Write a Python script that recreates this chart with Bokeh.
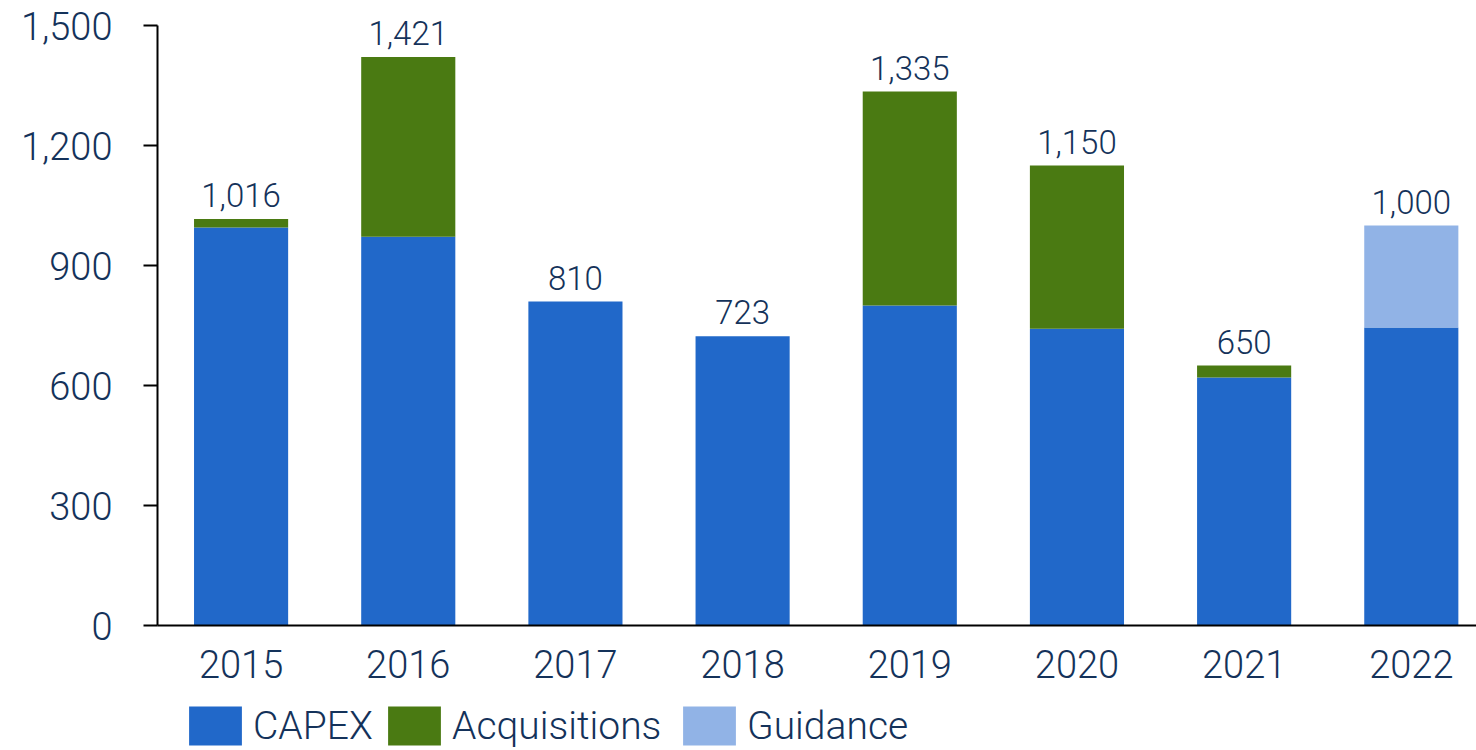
from bokeh.plotting import figure
from bokeh.models import ColumnDataSource, Range1d, NumeralTickFormatter, Legend, LegendItem, FixedTicker, LabelSet
from bokeh.layouts import column
from bokeh.embed import file_html
from bokeh.resources import INLINE
from bokeh.core.properties import value

years = ["2015", "2016", "2017", "2018", "2019", "2020", "2021", "2022"]
capex = [995, 972, 810, 723, 800, 742, 620, 745]
acquisitions = [21, 449, 0, 0, 535, 408, 30, 0]
guidance = [0, 0, 0, 0, 0, 0, 0, 255]
totals = [1016, 1421, 810, 723, 1335, 1150, 650, 1000]
total_labels = ["1,016", "1,421", "810", "723", "1,335", "1,150", "650", "1,000"]
y_ticks = [0, 300, 600, 900, 1200, 1500]
series_names = ["CAPEX", "Acquisitions", "Guidance"]

FONT = "Roboto Light, Roboto"
TXT = "#14325a"
C_CAPEX = "#2168c9"
C_ACQ = "#4a7a12"
C_GUID = "#91b3e6"
colors = [C_CAPEX, C_ACQ, C_GUID]

xpos = [i + 0.5 for i in range(len(years))]

src = ColumnDataSource(dict(x=xpos, years=years, capex=capex, acquisitions=acquisitions,
                            guidance=guidance, totals=totals, labels=total_labels))

p = figure(x_range=Range1d(0, 7.89), y_range=Range1d(0, 1560),
           width=1476, height=690, output_backend="svg", toolbar_location=None,
           min_border_left=157, min_border_right=0, min_border_top=1, min_border_bottom=65)

r = p.vbar_stack(["capex", "acquisitions", "guidance"], x="x", width=0.563, source=src,
                 color=colors, line_color=None)

labels = LabelSet(x="x", y="totals", text="labels", source=src, text_align="center",
                  text_baseline="bottom", y_offset=12, text_font=value(FONT),
                  text_font_size="33px", text_color=TXT)
p.add_layout(labels)

p.outline_line_color = None
p.grid.grid_line_color = None

p.yaxis.ticker = FixedTicker(ticks=y_ticks)
p.yaxis.bounds = (0, 1500)
p.yaxis.formatter = NumeralTickFormatter(format="0,0")
p.yaxis.major_label_text_font = FONT
p.yaxis.major_label_text_font_size = "38px"
p.yaxis.major_label_text_color = TXT
p.yaxis.axis_line_color = "black"
p.yaxis.axis_line_width = 2
p.yaxis.major_tick_line_color = "black"
p.yaxis.major_tick_line_width = 2
p.yaxis.major_tick_out = 14
p.yaxis.major_tick_in = 0
p.yaxis.minor_tick_line_color = None
p.yaxis.major_label_standoff = 31

p.xaxis.ticker = FixedTicker(ticks=xpos)
p.xaxis.major_label_overrides = {x: y for x, y in zip(xpos, years)}
p.xaxis.major_label_text_font = FONT
p.xaxis.major_label_text_font_size = "38px"
p.xaxis.major_label_text_color = TXT
p.xaxis.axis_line_color = "black"
p.xaxis.axis_line_width = 2
p.xaxis.major_tick_line_color = None
p.xaxis.minor_tick_line_color = None
p.xaxis.major_label_standoff = 18

# legend strip
lf = figure(width=1476, height=60, output_backend="svg", toolbar_location=None,
            x_range=Range1d(0, 1), y_range=Range1d(0, 1),
            min_border_left=0, min_border_right=0, min_border_top=0, min_border_bottom=0)
lf.axis.visible = False
lf.grid.grid_line_color = None
lf.outline_line_color = None
legend_x = [25, 224, 519]
for name, c, lx in zip(series_names, colors, legend_x):
    rr = lf.rect(x=[-5], y=[-5], width=0.1, height=0.1, color=c, line_color=None)
    lg = Legend(items=[LegendItem(label=name, renderers=[rr])], location=(lx, 0),
                label_text_font=FONT, label_text_font_size="39px", label_text_color=TXT,
                glyph_width=66, glyph_height=49, label_standoff=5,
                padding=0, margin=0, border_line_color=None, background_fill_alpha=0,
                label_height=49)
    lf.add_layout(lg, "center")

layout = column(p, lf, spacing=0)
open("out.html", "w").write(file_html(layout, INLINE))
